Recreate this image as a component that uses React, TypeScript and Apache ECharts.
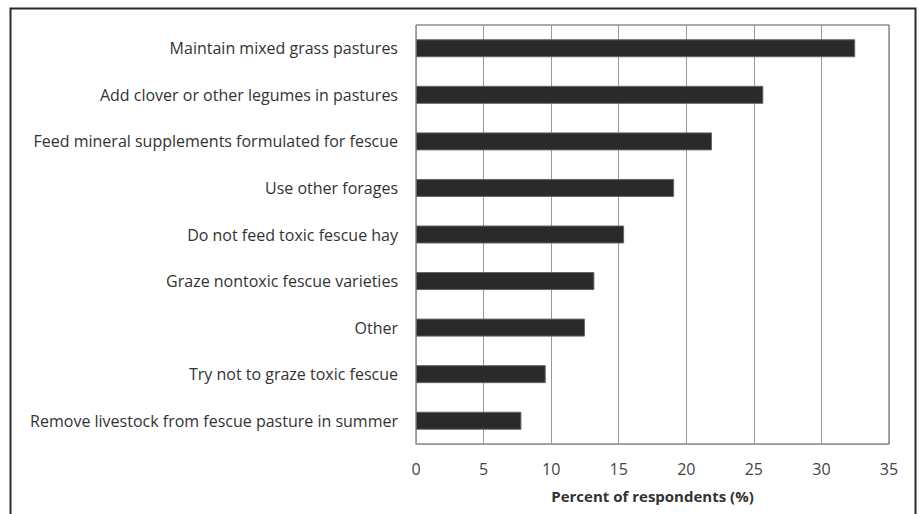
import React, { useEffect, useRef } from "react";
import * as echarts from "echarts";

const categories = [
  "Maintain mixed grass pastures",
  "Add clover or other legumes in pastures",
  "Feed mineral supplements formulated for fescue",
  "Use other forages",
  "Do not feed toxic fescue hay",
  "Graze nontoxic fescue varieties",
  "Other",
  "Try not to graze toxic fescue",
  "Remove livestock from fescue pasture in summer",
];
const values = [32.5, 25.7, 21.9, 19.1, 15.4, 13.2, 12.5, 9.6, 7.8];
const xTicks = { min: 0, max: 35, interval: 5 };
const xAxisName = "Percent of respondents (%)";

export default function App() {
  const ref = useRef<HTMLDivElement>(null);
  useEffect(() => {
    if (!ref.current) return;
    const chart = echarts.init(ref.current, undefined, { renderer: "svg" });
    const font = "'Open Sans', sans-serif";
    chart.setOption({
      animation: false,
      backgroundColor: "#ffffff",
      textStyle: { fontFamily: font },
      graphic: [
        {
          type: "rect",
          shape: { x: 10.5, y: 8.5, width: 905, height: 530 },
          style: { fill: "none", stroke: "#2a2a2a", lineWidth: 2 },
          silent: true,
        },
      ],
      grid: {
        left: 416,
        right: 30,
        top: 25,
        bottom: 70,
        containLabel: false,
        show: true,
        borderColor: "#555",
        borderWidth: 1,
        backgroundColor: "transparent",
      },
      xAxis: {
        type: "value",
        min: xTicks.min,
        max: xTicks.max,
        interval: xTicks.interval,
        name: xAxisName,
        nameLocation: "middle",
        nameGap: 44,
        nameTextStyle: { fontFamily: font, fontSize: 15, fontWeight: "bold", color: "#333" },
        axisLine: { show: true, lineStyle: { color: "#999", width: 1 } },
        axisTick: { show: false },
        axisLabel: { fontFamily: font, fontSize: 16, color: "#444", margin: 17 },
        splitLine: { show: true, lineStyle: { color: "#999", width: 1 } },
      },
      yAxis: {
        type: "category",
        data: categories,
        inverse: true,
        axisLine: { show: true, lineStyle: { color: "#999", width: 1 } },
        axisTick: { show: false },
        axisLabel: { fontFamily: font, fontSize: 16, color: "#333", margin: 18 },
        splitLine: { show: false },
      },
      series: [
        {
          type: "bar",
          data: values,
          barWidth: 18,
          itemStyle: { color: "#2b2a2b", borderColor: "#666", borderWidth: 1 },
        },
      ],
    });
    return () => chart.dispose();
  }, []);
  return (
    <div
      ref={ref}
      style={{ position: "fixed", left: 0, top: 0, width: 919, height: 514 }}
    />
  );
}
